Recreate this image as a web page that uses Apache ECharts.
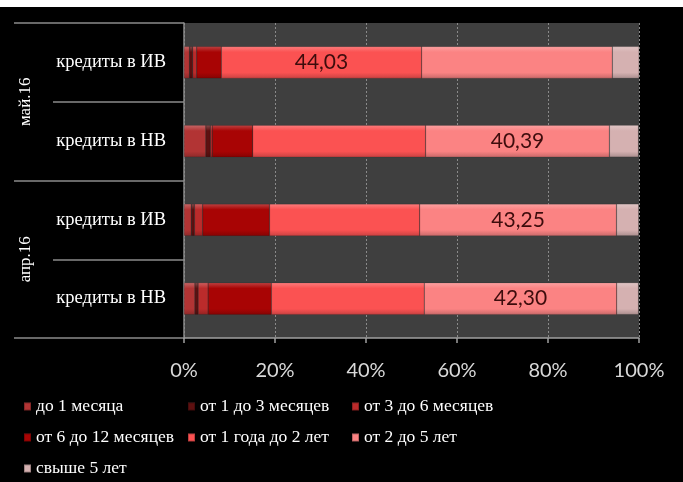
<!DOCTYPE html>
<html>
<head>
<meta charset="utf-8">
<script src="https://cdn.jsdelivr.net/npm/echarts@6/dist/echarts.min.js"></script>
<style>
  html, body { margin: 0; padding: 0; background: #000; }
  #chart { width: 683px; height: 482px; }
</style>
</head>
<body>
<div id="chart"></div>
<script>
// categories bottom -> top
const groups = ['апр.16', 'май.16'];
const subs = ['кредиты в НВ', 'кредиты в ИВ', 'кредиты в НВ', 'кредиты в ИВ'];
const subGroup = [0, 0, 1, 1];

const seriesNames = [
  'до 1 месяца',
  'от 1 до 3 месяцев',
  'от 3 до 6 месяцев',
  'от 6 до 12 месяцев',
  'от 1 года до 2 лет',
  'от 2 до 5 лет',
  'свыше 5 лет'
];

const upTo1m = [2.4, 1.6, 4.8, 1.2];
const m1to3 = [0.7, 0.7, 1.0, 0.7];
const m3to6 = [2.2, 1.8, 0.4, 0.9];
const m6to12 = [13.9, 14.7, 8.9, 5.4];
const y1to2 = [33.6, 33.0, 38.0, 44.03];
const y2to5 = [42.3, 43.25, 40.39, 41.9];
const over5y = [4.8, 4.9, 6.4, 5.9];

// which series carries the value label in each row
const labelledSeries = [5, 5, 5, 4];

const xTicks = [0, 20, 40, 60, 80, 100];

(() => {
  const chart = echarts.init(document.getElementById('chart'));

  const values = [upTo1m, m1to3, m3to6, m6to12, y1to2, y2to5, over5y];
  const colors = ['#b23434', '#5e1010', '#bb2b2b', '#a80404', '#fb5252', '#fb8383', '#d5b1b1'];

  // mix hex colour with white (t > 0) or black (t < 0)
  const shade = (hex, t) => {
    const n = parseInt(hex.slice(1), 16);
    const rgb = [n >> 16, (n >> 8) & 255, n & 255].map(c =>
      Math.round(t > 0 ? c + (255 - c) * t : c * (1 + t))
    );
    return `rgb(${rgb.join(',')})`;
  };

  // rough imitation of the bevelled bars
  const bevel = c => ({
    type: 'linear', x: 0, y: 0, x2: 0, y2: 1,
    colorStops: [
      { offset: 0, color: shade(c, 0.25) },
      { offset: 0.18, color: c },
      { offset: 0.82, color: c },
      { offset: 1, color: shade(c, -0.2) }
    ]
  });

  const axisCats = subs.map((s, i) => groups[subGroup[i]] + '|' + i);

  const series = values.map((vals, si) => ({
    name: seriesNames[si],
    type: 'bar',
    stack: 'total',
    barWidth: 32,
    yAxisIndex: 0,
    itemStyle: {
      color: bevel(colors[si]),
      borderColor: 'rgba(0,0,0,0.25)',
      borderWidth: 0.5
    },
    data: vals.map((v, ci) => ({
      value: v,
      label: {
        show: labelledSeries[ci] === si,
        position: 'inside',
        formatter: p => p.value.toFixed(2).replace('.', ','),
        color: '#3d0c0c',
        fontFamily: 'Lato',
        fontSize: 21
      }
    }))
  }));

  const option = {
    backgroundColor: '#000',
    animation: false,
    grid: {
      left: 184,
      right: 44,
      top: 23,
      bottom: 144,
      show: true,
      backgroundColor: '#3f3f3f',
      borderWidth: 0
    },
    graphic: [
      { type: 'rect', left: 0, top: 0, shape: { width: 683, height: 7 }, style: { fill: '#fff' } }
    ],
    xAxis: {
      type: 'value',
      min: xTicks[0],
      max: xTicks[xTicks.length - 1],
      interval: 20,
      axisLine: { show: true, lineStyle: { color: '#a0a0a0', width: 1.5 } },
      axisTick: { show: true, length: 5, lineStyle: { color: '#a0a0a0', width: 1.5 } },
      axisLabel: {
        formatter: '{value}%',
        color: '#d9d9d9',
        fontFamily: 'Lato',
        fontSize: 20,
        margin: 23
      },
      splitLine: { show: true, lineStyle: { color: '#8a8a8a', type: [2, 2], width: 1 } }
    },
    yAxis: [
      {
        type: 'category',
        data: axisCats,
        axisLine: { show: true, lineStyle: { color: '#8a8a8a', width: 1.5 } },
        axisTick: { show: true, length: 131, lineStyle: { color: '#8a8a8a', width: 1.5 } },
        axisLabel: {
          formatter: v => subs[+v.split('|')[1]],
          color: '#fff',
          fontFamily: 'Liberation Serif',
          fontSize: 18.5,
          margin: 18
        }
      },
      {
        type: 'category',
        position: 'left',
        data: groups,
        axisLine: { show: false },
        axisTick: { show: true, length: 170, lineStyle: { color: '#8a8a8a', width: 1.5 } },
        axisLabel: {
          rotate: 90,
          color: '#fff',
          fontFamily: 'Liberation Serif',
          fontSize: 17,
          margin: 150
        }
      }
    ],
    legend: {
      left: 23,
      top: 396,
      padding: 0,
      width: 510,
      itemWidth: 7,
      itemHeight: 8,
      itemGap: 10,
      icon: 'rect',
      data: seriesNames,
      textStyle: {
        color: '#fff',
        fontFamily: 'Liberation Serif',
        fontSize: 17.5,
        lineHeight: 21,
        width: 141
      }
    },
    series: series
  };

  chart.setOption(option);
})();
</script>
</body>
</html>
